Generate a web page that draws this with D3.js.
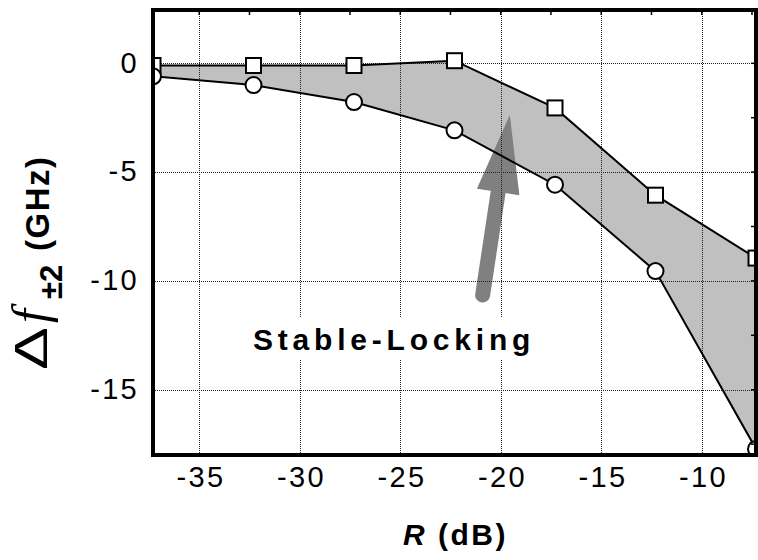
<!DOCTYPE html>
<html>
<head>
<meta charset="utf-8">
<script src="https://cdn.jsdelivr.net/npm/d3@7"></script>
<style>
  html, body { margin: 0; padding: 0; background: #fff; }
  svg { display: block; }
</style>
</head>
<body>
<svg id="chart" width="758" height="560"></svg>
<script>
// Reflection level R (dB) at each measured point
const rValues = [-37.3, -32.3, -27.3, -22.3, -17.3, -12.3, -7.3];
// Upper boundary of the locking range (squares), GHz
const upperEdge = [-0.1, -0.1, -0.1, 0.12, -2.05, -6.06, -8.95];
// Lower boundary of the locking range (circles), GHz
const lowerEdge = [-0.6, -1.0, -1.78, -3.08, -5.58, -9.55, -17.72];
// Tick labels
const xTicks = [-35, -30, -25, -20, -15, -10];
const yTicks = [0, -5, -10, -15];
// Minor inward ticks on the top and right borders
const xMinor = [-35, -32.5, -30, -27.5, -25, -22.5, -20, -17.5, -15, -12.5, -10, -7.5];
const yMinor = [2.5, 0, -2.5, -5, -7.5, -10, -12.5, -15, -17.5];

const svg = d3.select("#chart");
const L = 153, R = 756, T = 10, B = 455;

const x = d3.scaleLinear().domain([-37.3, -7.3]).range([L, R]);
const y = d3.scaleLinear().domain([2.45, -18]).range([T, B]);

const pts = rValues.map((r, i) => ({ r, hi: upperEdge[i], lo: lowerEdge[i] }));

svg.append("defs").append("clipPath").attr("id", "plotClip")
  .append("rect").attr("x", L).attr("y", T).attr("width", R - L).attr("height", B - T);

const plot = svg.append("g").attr("clip-path", "url(#plotClip)");

// Shaded stable-locking band
plot.append("path")
  .datum(pts)
  .attr("fill", "#c0c0c0")
  .attr("d", d3.area().x(d => x(d.r)).y0(d => y(d.lo)).y1(d => y(d.hi)));

// Arrow pointing into the band
const arrowTail = [-20.9, -10.65], arrowTip = [-19.55, -2.37];
{
  const p0 = [x(arrowTail[0]), y(arrowTail[1])];
  const p1 = [x(arrowTip[0]), y(arrowTip[1])];
  const len = Math.hypot(p1[0] - p0[0], p1[1] - p0[1]);
  const d = [(p1[0] - p0[0]) / len, (p1[1] - p0[1]) / len];
  const n = [-d[1], d[0]];
  const headLen = 78, headHalf = 21.5;
  const base = [p1[0] - d[0] * headLen, p1[1] - d[1] * headLen];
  plot.append("line")
    .attr("x1", p0[0]).attr("y1", p0[1])
    .attr("x2", base[0] + d[0] * 4).attr("y2", base[1] + d[1] * 4)
    .attr("stroke", "#808080").attr("stroke-width", 15).attr("stroke-linecap", "round");
  plot.append("polygon")
    .attr("fill", "#808080")
    .attr("points", [
      [base[0] + n[0] * headHalf, base[1] + n[1] * headHalf],
      p1,
      [base[0] - n[0] * headHalf, base[1] - n[1] * headHalf]
    ].map(p => p.join(",")).join(" "));
}

// Dotted grid
const grid = plot.append("g").attr("stroke", "#222").attr("stroke-width", 1)
  .attr("stroke-dasharray", "1,1").attr("fill", "none");
xTicks.forEach(v => grid.append("line")
  .attr("x1", Math.round(x(v)) + 0.5).attr("x2", Math.round(x(v)) + 0.5)
  .attr("y1", T).attr("y2", B));
yTicks.forEach(v => grid.append("line")
  .attr("y1", Math.round(y(v)) + 0.5).attr("y2", Math.round(y(v)) + 0.5)
  .attr("x1", L).attr("x2", R));

// Boundary lines
const lineGen = key => d3.line().x(d => x(d.r)).y(d => y(d[key]));
["hi", "lo"].forEach(k => plot.append("path").datum(pts)
  .attr("fill", "none").attr("stroke", "#000").attr("stroke-width", 2)
  .attr("d", lineGen(k)));

// Markers
plot.selectAll("rect.sq").data(pts).join("rect").attr("class", "sq")
  .attr("x", d => x(d.r) - 7.5).attr("y", d => y(d.hi) - 7.5)
  .attr("width", 15).attr("height", 15)
  .attr("fill", "#fff").attr("stroke", "#000").attr("stroke-width", 2);
plot.selectAll("circle.ci").data(pts).join("circle").attr("class", "ci")
  .attr("cx", d => x(d.r)).attr("cy", d => y(d.lo)).attr("r", 8)
  .attr("fill", "#fff").attr("stroke", "#000").attr("stroke-width", 2);

// Inward minor ticks, top and right
const tk = svg.append("g").attr("stroke", "#000").attr("stroke-width", 1.5);
xMinor.forEach(v => tk.append("line").attr("x1", x(v)).attr("x2", x(v)).attr("y1", T).attr("y2", T + 5));
yMinor.forEach(v => tk.append("line").attr("y1", y(v)).attr("y2", y(v)).attr("x1", R).attr("x2", R - 5));

// Frame
svg.append("rect").attr("x", L).attr("y", T).attr("width", R - L).attr("height", B - T)
  .attr("fill", "none").attr("stroke", "#000").attr("stroke-width", 4);

// Tick labels (plain hyphen as minus sign)
const font = "'Liberation Sans', Arial, sans-serif";
const fmt = d => String(d);
const xAxis = d3.axisBottom(x).tickValues(xTicks).tickSize(0).tickPadding(0).tickFormat(fmt);
const gx = svg.append("g").attr("transform", `translate(0,${B})`).call(xAxis);
gx.select(".domain").remove();
gx.selectAll("text").attr("font-family", font).attr("font-size", 29)
  .attr("letter-spacing", "2.3px").attr("fill", "#000")
  .attr("dy", null).attr("y", 32).attr("dx", "1.2px");

const yAxis = d3.axisLeft(y).tickValues(yTicks).tickSize(0).tickPadding(0).tickFormat(fmt);
const gy = svg.append("g").attr("transform", `translate(${L - 14},0)`).call(yAxis);
gy.select(".domain").remove();
gy.selectAll("text").attr("font-family", font).attr("font-size", 29)
  .attr("letter-spacing", "2.3px").attr("fill", "#000")
  .attr("dy", "0.3em").attr("x", 0);

// Axis title: R (dB)
const xt = svg.append("text").attr("x", 403).attr("y", 545)
  .attr("font-family", font).attr("font-size", 30).attr("font-weight", "bold")
  .attr("letter-spacing", "2.5px").attr("fill", "#000");
xt.append("tspan").attr("font-style", "italic").text("R");
xt.append("tspan").text(" (dB)");

// Axis title: Δf ±2 (GHz), rotated
const yt = svg.append("g").attr("transform", "rotate(-90)");
yt.append("g").attr("transform", "translate(-370,47) scale(1.4,1)")
  .append("text").attr("font-family", font).attr("font-size", 46)
  .attr("fill", "#000").text("Δ");
yt.append("text").attr("x", -323).attr("y", 47)
  .attr("font-family", "'Liberation Serif', 'Times New Roman', serif")
  .attr("font-style", "italic").attr("font-size", 50).attr("fill", "#000").text("f");
yt.append("text").attr("x", -299).attr("y", 62)
  .attr("font-family", font).attr("font-weight", "bold").attr("font-size", 31)
  .attr("fill", "#000").text("±2");
yt.append("text").attr("x", -251).attr("y", 49)
  .attr("font-family", font).attr("font-weight", "bold").attr("font-size", 33)
  .attr("letter-spacing", "1.5px").attr("fill", "#000").text("(GHz)");

// Band label with a white backing
svg.append("rect").attr("x", 246).attr("y", 318).attr("width", 292).attr("height", 42).attr("fill", "#fff");
svg.append("text").attr("x", 253).attr("y", 350)
  .attr("font-family", font).attr("font-size", 30).attr("font-weight", "bold")
  .attr("letter-spacing", "4.8px").attr("fill", "#000").text("Stable-Locking");
</script>
</body>
</html>
